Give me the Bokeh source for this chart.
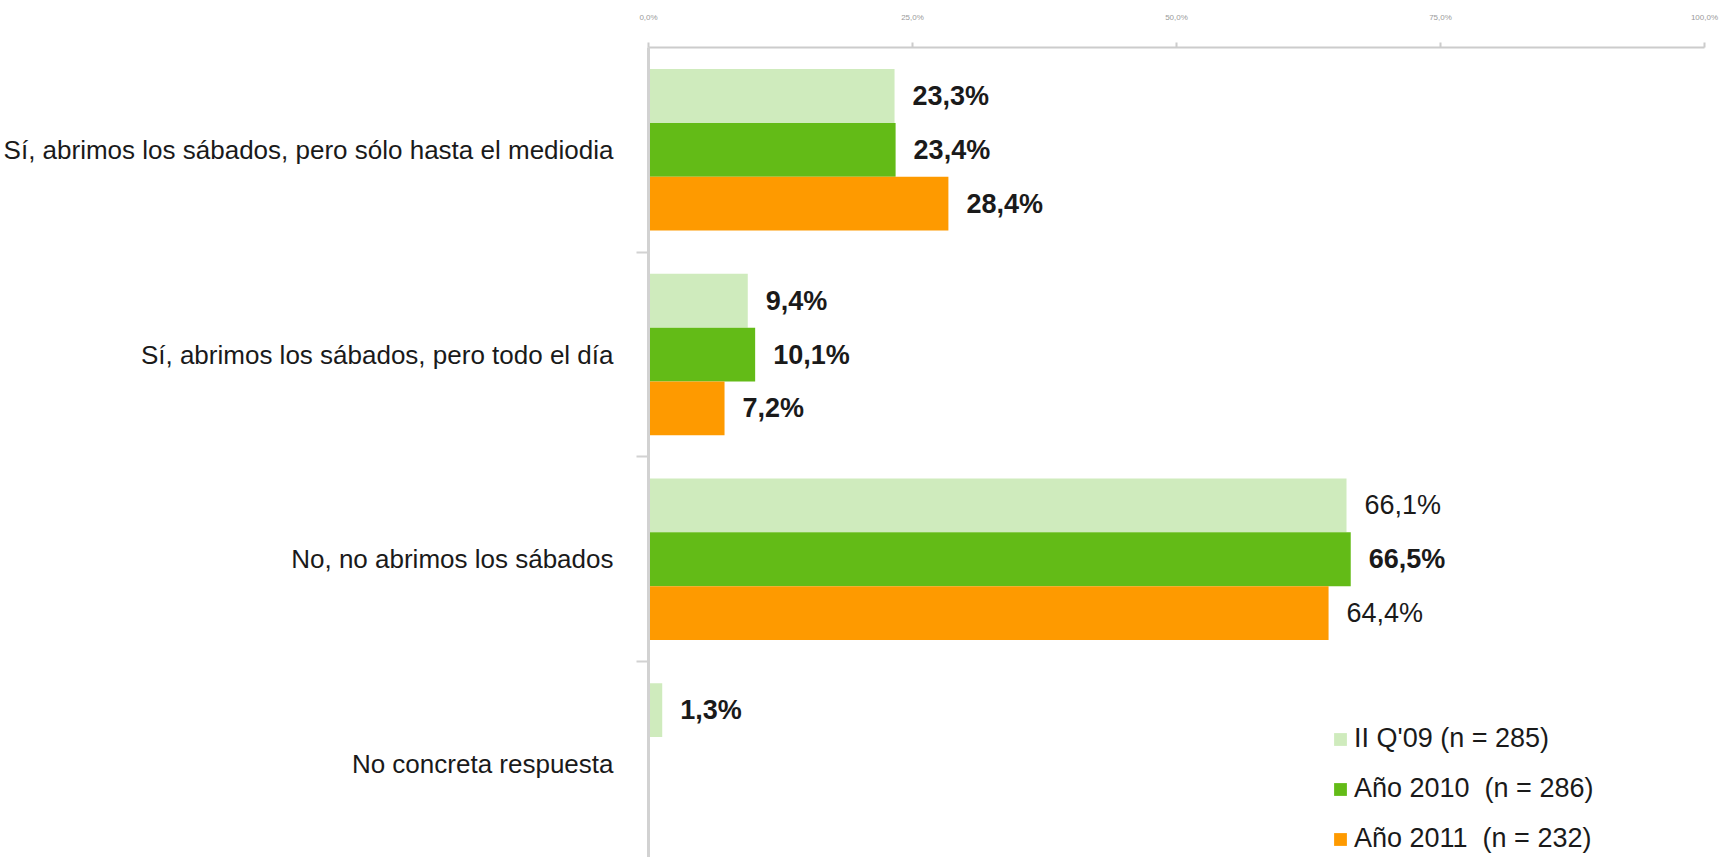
from bokeh.plotting import figure
from bokeh.models import ColumnDataSource, Range1d, FixedTicker, Legend, LegendItem
from bokeh.core.properties import value
from bokeh.embed import file_html
from bokeh.resources import INLINE

# ---- data ----
categories = [
    "Sí, abrimos los sábados, pero sólo hasta el mediodia",
    "Sí, abrimos los sábados, pero todo el día",
    "No, no abrimos los sábados",
    "No concreta respuesta",
]
series_names = ["II Q'09 (n = 285)", "Año 2010  (n = 286)", "Año 2011  (n = 232)"]
q09 = [23.3, 9.4, 66.1, 1.3]
y2010 = [23.4, 10.1, 66.5, None]
y2011 = [28.4, 7.2, 64.4, None]
x_ticks = [0, 25, 50, 75, 100]
x_tick_labels = ["0,0%", "25,0%", "50,0%", "75,0%", "100,0%"]

# ---- styles ----
colors = ["#cfebbd", "#63bb17", "#fe9a00"]
label_styles = [
    ["bold", "bold", "normal", "bold"],
    ["bold", "bold", "bold", "bold"],
    ["bold", "bold", "normal", "bold"],
]
FONT = "Liberation Sans, Arial, sans-serif"
CAT_H = 204.7
FRAME_H = 810
BAR_H = 0.263
offsets = [-BAR_H, 0.0, BAR_H]

p = figure(
    width=1718, height=857,
    frame_width=1056, frame_height=FRAME_H,
    min_border_left=640, min_border_right=22, min_border_top=47, min_border_bottom=0,
    x_range=Range1d(0, 100), y_range=Range1d(FRAME_H / CAT_H, 0),
    x_axis_location="above",
    output_backend="svg", toolbar_location=None,
)
p.outline_line_color = None
p.grid.visible = False
p.background_fill_color = "white"
p.border_fill_color = "white"

# x axis (top)
xa = p.xaxis[0]
xa.ticker = FixedTicker(ticks=x_ticks)
xa.major_label_overrides = {t: l for t, l in zip(x_ticks, x_tick_labels)}
xa.major_label_text_font_size = "8px"
xa.major_label_text_color = "#9a9a9a"
xa.major_label_text_font = FONT
xa.major_label_standoff = 21
xa.axis_line_color = "#cccccc"
xa.axis_line_width = 2
xa.major_tick_line_color = "#cccccc"
xa.major_tick_line_width = 2
xa.major_tick_out = 5
xa.major_tick_in = 0
xa.minor_tick_line_color = None

# y axis (left)
ya = p.yaxis[0]
centers = [i + 0.5 for i in range(len(categories))]
bounds = [i for i in range(1, len(categories))]
ya.ticker = FixedTicker(ticks=centers, minor_ticks=bounds)
ya.major_label_overrides = {c: cat for c, cat in zip(centers, categories)}
ya.major_label_text_font = FONT
ya.major_label_text_font_size = "26px"
ya.major_label_text_color = "#1a1a1a"
ya.major_label_standoff = 23
ya.major_tick_line_color = None
ya.major_tick_out = 0
ya.major_tick_in = 0
ya.axis_line_color = "#d2d2d2"
ya.axis_line_width = 3
ya.minor_tick_line_color = "#d2d2d2"
ya.minor_tick_line_width = 2
ya.minor_tick_out = 12
ya.minor_tick_in = 0

renderers = []
for k, (vals, col) in enumerate(zip([q09, y2010, y2011], colors)):
    ys, xs, labels, styles = [], [], [], []
    for i, v in enumerate(vals):
        if v is None:
            continue
        ys.append(centers[i] + offsets[k])
        xs.append(v)
        labels.append(f"{v:.1f}%".replace(".", ","))
        styles.append(label_styles[k][i])
    src = ColumnDataSource(dict(y=ys, x=xs, label=labels, style=styles))
    r = p.hbar(y="y", right="x", left=0, height=BAR_H, source=src,
               fill_color=col, line_color=None)
    renderers.append(r)
    p.text(x="x", y="y", text="label", source=src, x_offset=18,
           text_align="left", text_baseline="middle",
           text_font=value(FONT), text_font_size="27px",
           text_font_style="style", text_color="#1a1a1a")

legend = Legend(
    items=[LegendItem(label=n, renderers=[r]) for n, r in zip(series_names, renderers)],
    location=(684, 3), orientation="vertical",
    padding=0, margin=0, spacing=19, label_standoff=6,
    glyph_width=16, glyph_height=16, label_height=30,
    label_text_font=FONT, label_text_font_size="27px", label_text_color="#1a1a1a",
    background_fill_alpha=0, border_line_color=None,
)
p.add_layout(legend, "center")

open("out.html", "w").write(file_html(p, INLINE))
